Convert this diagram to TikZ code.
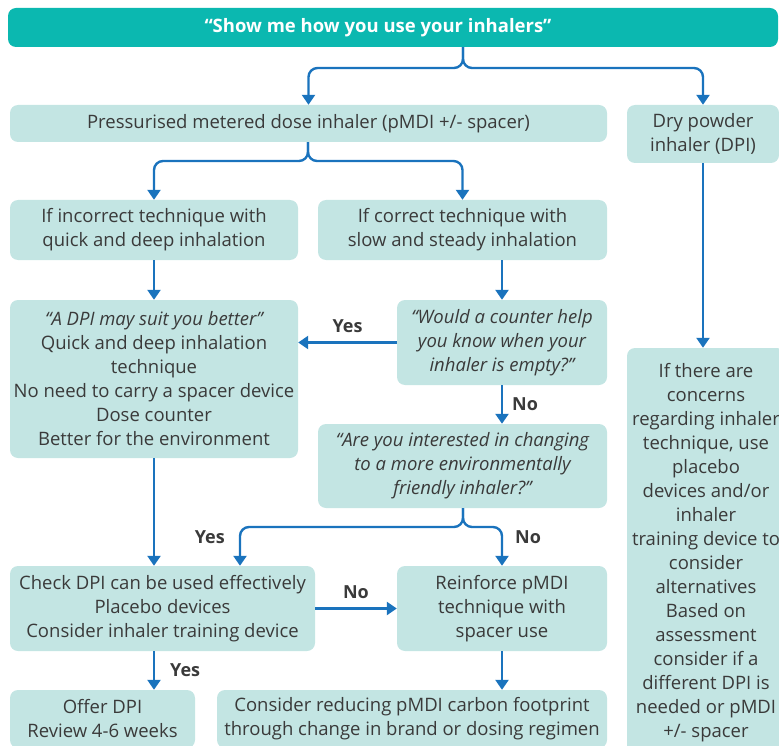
\documentclass[tikz,border=0pt]{standalone}
\usepackage{fontspec}
\setmainfont{Open Sans}
\usetikzlibrary{arrows.meta}
\definecolor{teal1}{HTML}{0BB8B0}
\definecolor{boxbg}{HTML}{C3E5E3}
\definecolor{arrblue}{HTML}{1A73BD}
\definecolor{txt}{HTML}{3A3A3A}
\tikzset{
  box/.style={fill=boxbg, rounded corners=8pt, inner sep=0pt, align=center, text=txt,
    font=\fontsize{18.5}{24}\selectfont},
  conn/.style={draw=arrblue, line width=2.4pt, rounded corners=9pt,
    -{Triangle[width=13pt,length=10pt]}},
  lbl/.style={text=txt, font=\fontsize{18}{22}\selectfont\bfseries, inner sep=0pt}
}
\begin{document}
\begin{tikzpicture}[x=1pt,y=-1pt]
\useasboundingbox (0,0) rectangle (779,746);
% boxes
\node[fill=teal1, rounded corners=8pt, minimum width=770pt, minimum height=39pt, inner sep=0pt,
  text=white, font=\fontsize{18.5}{24}\selectfont\bfseries] (top) at (393,27.5) {\hspace*{-30pt}\char"201C Show me how you use your inhalers\char"201D};
\node[box, minimum width=597pt, minimum height=37pt] (pmdi) at (308.5,123.5) {Pressurised metered dose inhaler (pMDI +/- spacer)};
\node[box, minimum width=152pt, minimum height=58pt] (dpi) at (703,134) {Dry powder\\inhaler (DPI)};
\node[box, minimum width=288pt, minimum height=60pt] (inc) at (154,230) {If incorrect technique with\\quick and deep inhalation};
\node[box, minimum width=289pt, minimum height=60pt] (cor) at (462.5,230) {If correct technique with\\slow and steady inhalation};
\node[box, minimum width=288pt, minimum height=158pt] (suit) at (154,379) {\itshape\char"201C A DPI may suit you better\char"201D\\Quick and deep inhalation\\technique\\No need to carry a spacer device\\Dose counter\\Better for the environment};
\node[box, minimum width=210pt, minimum height=85pt] (counter) at (502,342.5) {\itshape\char"201C Would a counter help\\\itshape you know when your\\\itshape inhaler is empty?\char"201D};
\node[box, minimum width=289pt, minimum height=84pt] (interest) at (462.5,466) {\itshape\char"201C Are you interested in changing\\\itshape to a more environmentally\\\itshape friendly inhaler?\char"201D};
\node[box, minimum width=305pt, minimum height=85pt] (check) at (162.5,608.5) {Check DPI can be used effectively\\Placebo devices\\Consider inhaler training device};
\node[box, minimum width=210pt, minimum height=85pt] (reinf) at (502,608.5) {Reinforce pMDI\\technique with\\spacer use};
\node[box, minimum width=185pt, minimum height=58pt] (offer) at (102.5,719) {Offer DPI\\Review 4-6 weeks};
\node[box, minimum width=390pt, minimum height=58pt] (reduce) at (412,719) {Consider reducing pMDI carbon footprint\\through change in brand or dosing regimen};
\node[box, minimum width=158pt, minimum height=410pt] (tall) at (706,553) {If there are\\concerns\\regarding inhaler\\technique, use\\placebo\\devices and/or\\inhaler\\training device to\\consider\\alternatives\\Based on\\assessment\\consider if a\\different DPI is\\needed or pMDI\\+/- spacer};
% stem coordinates
\coordinate (s1) at (463,68);
\coordinate (s2) at (308,161);
\coordinate (s3) at (463,527);
% connectors
\draw[conn] (top.south -| s1) |- (s1 -| pmdi.north) -- (pmdi.north);
\draw[conn] (top.south -| s1) |- (s1 -| dpi.north) -- (dpi.north);
\draw[conn] (pmdi.south -| s2) |- (s2 -| inc.north) -- (inc.north);
\draw[conn] (pmdi.south -| s2) |- (s2 -| cor.north) -- (cor.north);
\draw[conn] (inc.south) -- (suit.north);
\draw[conn] (cor.south -| counter) -- (counter.north);
\draw[conn] (counter.west) -- (counter.west -| suit.east) node[lbl, pos=0.5, above=9pt] {Yes};
\draw[conn] (counter.south) -- (counter.south |- interest.north) node[lbl, pos=0.5, right=9pt] {No};
\coordinate (yesx) at (240,0);
\draw[conn] (interest.south -| s3) |- (s3 -| yesx) -- (yesx |- check.north) node[lbl, pos=0.25, left=14pt] {Yes};
\draw[conn] (interest.south -| s3) |- (s3 -| reinf) -- (reinf.north) node[lbl, pos=0.25, right=12pt] {No};
\draw[conn] (suit.south) -- (suit.south |- check.north);
\draw[conn] (check.east |- reinf.center) -- (reinf.west) node[lbl, pos=0.5, above=9pt] {No};
\draw[conn] (check.south -| suit) -- (offer.north -| suit) node[lbl, pos=0.5, right=15pt] {Yes};
\draw[conn] (reinf.south) -- (reinf.south |- reduce.north);
\draw[conn] (dpi.south) -- (tall.north -| dpi);
\end{tikzpicture}
\end{document}
